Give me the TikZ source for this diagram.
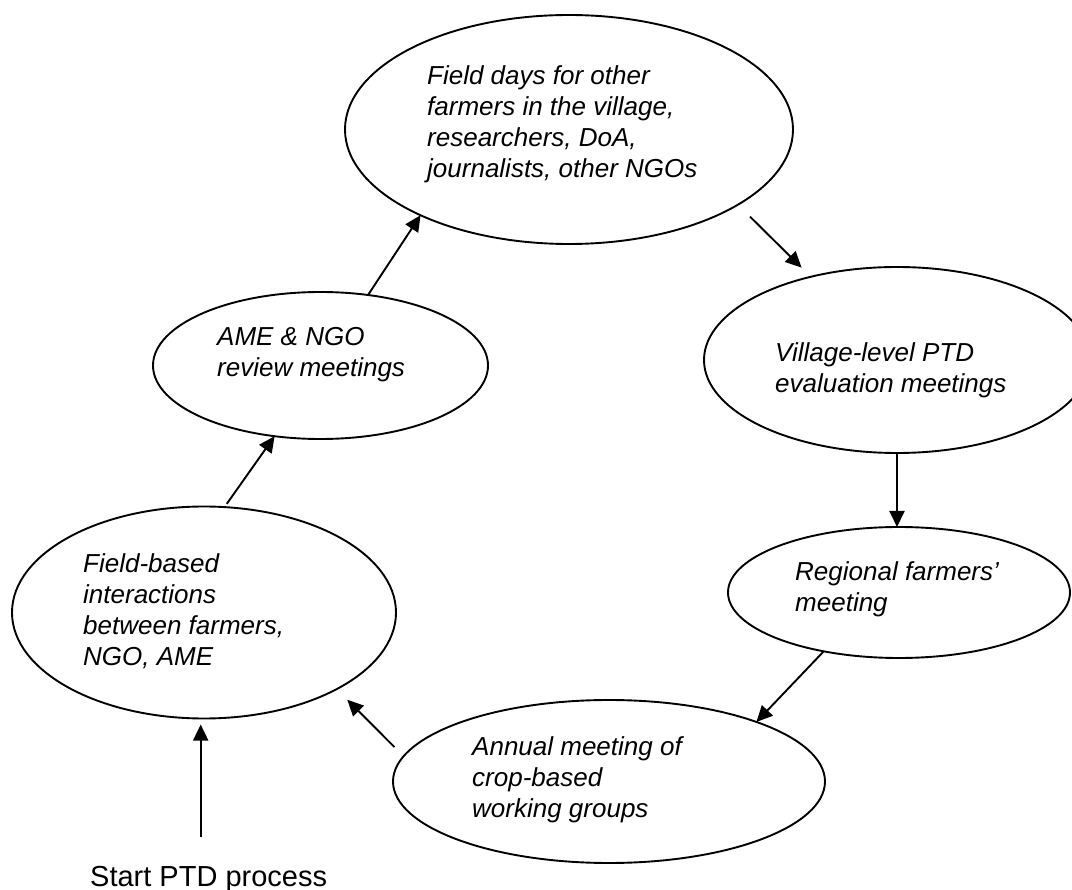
\documentclass[tikz,border=0pt]{standalone}
\usepackage{fontspec}
\setmainfont{Liberation Sans}
\usetikzlibrary{shapes.geometric,arrows.meta}
\begin{document}
\begin{tikzpicture}[x=1pt,y=-1pt,
  oval/.style={draw,ellipse,line width=1.9pt,inner sep=0pt,outer sep=0pt},
  lbl/.style={anchor=north west,align=left,inner sep=0pt,font=\fontsize{26}{31}\selectfont\itshape},
  arr/.style={line width=1.9pt,-{Triangle[length=16pt,width=15pt]}}]
\clip (0,0) rectangle (1072,890);
\fill[white] (0,0) rectangle (1072,890);

% ellipses
\node[oval,minimum width=448pt,minimum height=229pt] (fd)  at (569,129.5) {};
\node[oval,minimum width=335pt,minimum height=147pt] (ame) at (320.5,365.5) {};
\node[oval,minimum width=386pt,minimum height=186pt] (vil) at (897,360) {};
\node[oval,minimum width=342pt,minimum height=131pt] (reg) at (899,592.5) {};
\node[oval,minimum width=432pt,minimum height=163pt] (ann) at (609,781.5) {};
\node[oval,minimum width=384pt,minimum height=212pt] (fb)  at (204,612.5) {};

% texts
\node[lbl] (fdt)  at (427,65)  {Field days for other\\farmers in the village,\\researchers, DoA,\\journalists, other NGOs};
\node[lbl] (amet) at (217,327) {AME \& NGO\\review meetings};
\node[lbl] (vilt) at (775,342) {Village-level PTD\\evaluation meetings};
\node[lbl] (regt) at (795,561) {Regional farmers’\\meeting};
\node[lbl] (annt) at (472,736) {Annual meeting of\\crop-based\\working groups};
\node[lbl] (fbt)  at (83,553)  {Field-based\\interactions\\between farmers,\\NGO, AME};
\node[anchor=base west,inner sep=0pt,font=\fontsize{29}{34}\selectfont] (start) at (90,886) {Start PTD process};

% connectors
\draw[arr,shorten <=4pt] (fb.79) -- (ame.237);
\draw[arr] (ame.56) -- (fd.210);
\draw[arr,shorten <=17pt,shorten >=13pt] (fd.336) -- (vil.136);
\draw[arr] (vil.south) -- (vil.south |- reg.north);
\draw[arr] (reg.218) -- (ann.22);
\draw[arr,shorten <=13pt,shorten >=15pt] (ann.173) -- (fb.330);
\coordinate (s0) at (200.7,837);
\draw[arr,shorten >=6pt] (s0) -- (s0 |- fb.south);
\end{tikzpicture}
\end{document}
